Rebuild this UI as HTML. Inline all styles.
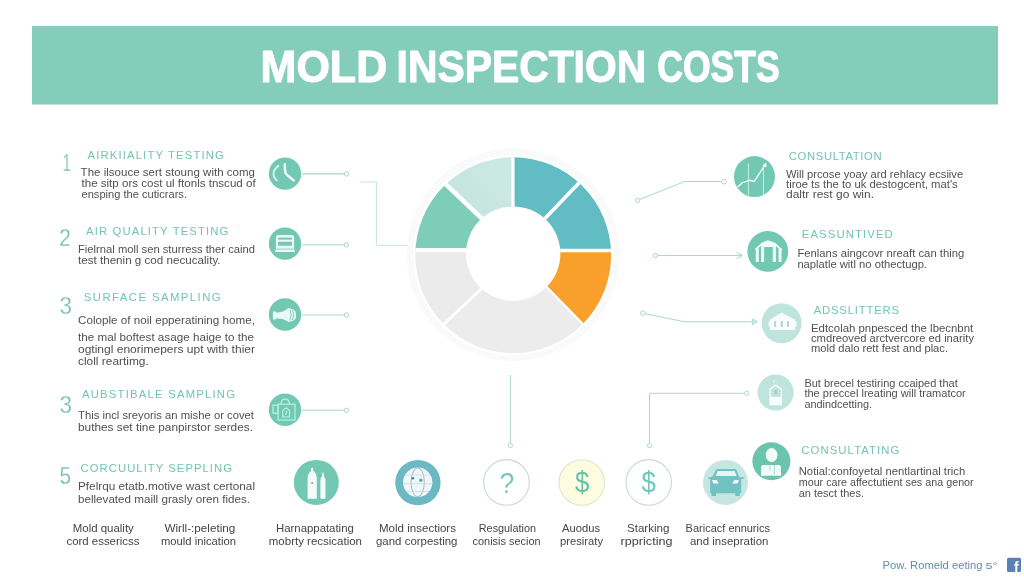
<!DOCTYPE html>
<html lang="en">
<head>
<meta charset="utf-8">
<title>Mold Inspection Costs</title>
<style>
html,body{margin:0;padding:0;background:#fff;}
body{width:1024px;height:585px;overflow:hidden;font-family:"Liberation Sans",sans-serif;}
svg{display:block;font-family:"Liberation Sans",sans-serif;filter:blur(0.3px);}
</style>
</head>
<body>
<svg width="1024" height="585" viewBox="0 0 1024 585">
<rect width="1024" height="585" fill="#ffffff"/>

<rect x="32" y="26" width="966" height="78.5" fill="#85cdbb"/>
<text y="81.5" font-size="45" font-weight="bold" fill="#ffffff" stroke="#ffffff" stroke-width="1.1" stroke-linejoin="round"><tspan x="260.6" textLength="126.6" lengthAdjust="spacingAndGlyphs">MOLD</tspan> <tspan x="396.6" textLength="249.6" lengthAdjust="spacingAndGlyphs">INSPECTION</tspan> <tspan x="657.2" textLength="122.6" lengthAdjust="spacingAndGlyphs">COSTS</tspan></text>
<defs>
<linearGradient id="pale" x1="0" y1="1" x2="1" y2="0"><stop offset="0" stop-color="#bfe2da"/><stop offset="1" stop-color="#d2ebe6"/></linearGradient>
<clipPath id="donut"><path clip-rule="evenodd" d="M415.30000000000007,255.2 a97.9,97.9 0 1 0 195.8,0 a97.9,97.9 0 1 0 -195.8,0 Z M466.00000000000006,253.7 a47.2,47.2 0 1 0 94.4,0 a47.2,47.2 0 1 0 -94.4,0 Z"/></clipPath>
</defs>
<circle cx="513.2" cy="254.6" r="106.5" fill="#f9fafa"/>
<circle cx="513.2" cy="255.2" r="100.2" fill="#ffffff"/>
<g clip-path="url(#donut)">
<polygon points="513.0,227.0 513.0,110.0 540.8,107.8 567.7,115.4 592.6,128.0 606.3,154.2 537.6,226.2" fill="#62bcc4"/>
<polygon points="537.6,226.2 606.3,154.2 634.6,167.1 649.6,192.7 659.2,220.8 655.0,250.5 543.0,250.5" fill="#62bcc4"/>
<polygon points="543.0,250.5 655.0,250.5 661.0,280.8 652.7,310.2 638.7,337.4 610.2,352.0 538.9,279.1" fill="#f9a02c"/>
<polygon points="538.9,279.1 610.2,352.0 570.4,393.9 512.5,405.2 454.8,393.4 415.0,351.5 489.7,280.9" fill="#ececec"/>
<polygon points="489.7,280.9 415.0,351.5 387.2,336.5 373.4,309.5 365.3,280.2 370.0,250.1 482.0,250.1" fill="#ebebeb"/>
<polygon points="482.0,250.1 370.0,250.1 367.0,221.6 376.0,194.6 389.9,169.7 417.3,157.1 489.7,226.2" fill="#7dcdb9"/>
<polygon points="489.7,226.2 417.3,157.1 430.9,129.8 456.5,116.3 484.2,108.0 513.0,110.0 513.0,227.0" fill="url(#pale)"/>
<line x1="513.0" y1="227.0" x2="513.0" y2="138.0" stroke="#ffffff" stroke-width="3.2"/>
<line x1="537.6" y1="226.2" x2="587.0" y2="174.4" stroke="#ffffff" stroke-width="3.6"/>
<line x1="543.0" y1="250.5" x2="627.0" y2="250.5" stroke="#ffffff" stroke-width="3.7"/>
<line x1="538.9" y1="279.1" x2="590.6" y2="332.0" stroke="#ffffff" stroke-width="2.2"/>
<line x1="489.7" y1="280.9" x2="435.4" y2="332.2" stroke="#ffffff" stroke-width="2.6"/>
<line x1="482.0" y1="250.1" x2="398.0" y2="250.1" stroke="#ffffff" stroke-width="4.0"/>
<line x1="489.7" y1="226.2" x2="437.5" y2="176.4" stroke="#ffffff" stroke-width="4.4"/>
</g>
<g fill="none" stroke="#a9d8cf" stroke-width="1">
<path d="M302,173.9 H344.3" stroke-width="1.1"/><circle cx="346.5" cy="173.9" r="2.2" fill="#fff"/>
<path d="M302,244.8 H344.3" stroke-width="1.1"/><circle cx="346.5" cy="244.8" r="2.2" fill="#fff"/>
<path d="M302,315 H344.3" stroke-width="1.1"/><circle cx="346.5" cy="315" r="2.2" fill="#fff"/>
<path d="M302,410.3 H344.3" stroke-width="1.1"/><circle cx="346.5" cy="410.3" r="2.2" fill="#fff"/>
<path d="M360,182 H376.4 V245.3 H407" stroke="#c3e3dc"/>
<path d="M510.4,375 V443.4"/><circle cx="510.4" cy="445.5" r="2.1" fill="#fff"/>
<path d="M649.5,443.4 V393.3 H744.6"/><circle cx="649.5" cy="445.5" r="2.1" fill="#fff"/><circle cx="746.8" cy="393.3" r="2.1" fill="#fff"/>
<path d="M639.4,199.6 L684.5,181.6 H721.5"/><circle cx="637.6" cy="200.4" r="2.1" fill="#fff"/><circle cx="724" cy="181.6" r="2.4" fill="#fff"/>
<path d="M657.6,255.5 H742"/><path d="M736.5,252.3 L742.3,255.5 L736.5,258.7"/><circle cx="655.4" cy="255.5" r="2.2" fill="#fff"/>
<path d="M645,313.7 L684.5,321.8 H753"/><path d="M752.3,319 L757.3,321.8 L752.3,324.6 Z" fill="#d5ece7"/><circle cx="642.9" cy="313.2" r="2.3" fill="#fff"/>
</g>
<text x="62.5" y="170.6" font-size="23" fill="#68bdab" font-weight="normal" textLength="8.5" lengthAdjust="spacingAndGlyphs" stroke="#ffffff" stroke-width="0.3">1</text>
<text x="87.5" y="158.8" font-size="11.3" fill="#72c4b4" font-weight="normal" textLength="136.3" lengthAdjust="spacing" >AIRKIIALITY TESTING</text>
<text x="80.6" y="176.3" font-size="11.8" fill="#505050" font-weight="normal" textLength="174.4" lengthAdjust="spacingAndGlyphs" >The ilsouce sert stoung with comg</text>
<text x="81.5" y="187.0" font-size="11.5" fill="#505050" font-weight="normal" textLength="174.1" lengthAdjust="spacingAndGlyphs" >the sitp ors cost ul ftonls tnscud of</text>
<text x="81.5" y="198.0" font-size="11.5" fill="#505050" font-weight="normal" textLength="105.5" lengthAdjust="spacingAndGlyphs" >ensping the cuticrars.</text>
<text x="59.0" y="245.6" font-size="23" fill="#68bdab" font-weight="normal" textLength="12.0" lengthAdjust="spacingAndGlyphs" stroke="#ffffff" stroke-width="0.3">2</text>
<text x="86.0" y="235.0" font-size="11.3" fill="#72c4b4" font-weight="normal" textLength="142.4" lengthAdjust="spacing" >AIR QUALITY TESTING</text>
<text x="78.0" y="252.5" font-size="11.8" fill="#505050" font-weight="normal" textLength="177.0" lengthAdjust="spacingAndGlyphs" >Fielrnal moll sen sturress ther caind</text>
<text x="78.0" y="264.4" font-size="11.8" fill="#505050" font-weight="normal" textLength="142.6" lengthAdjust="spacingAndGlyphs" >test thenin g cod necucality.</text>
<text x="59.4" y="314.4" font-size="23" fill="#68bdab" font-weight="normal" textLength="12.6" lengthAdjust="spacingAndGlyphs" stroke="#ffffff" stroke-width="0.3">3</text>
<text x="83.8" y="301.3" font-size="11.3" fill="#72c4b4" font-weight="normal" textLength="136.8" lengthAdjust="spacing" >SURFACE SAMPLING</text>
<text x="78.0" y="324.4" font-size="11.8" fill="#505050" font-weight="normal" textLength="177.0" lengthAdjust="spacingAndGlyphs" >Colople of noil epperatining home,</text>
<text x="78.0" y="341.0" font-size="11.8" fill="#505050" font-weight="normal" textLength="176.0" lengthAdjust="spacingAndGlyphs" >the mal boftest asage haige to the</text>
<text x="78.0" y="352.5" font-size="11.8" fill="#505050" font-weight="normal" textLength="177.0" lengthAdjust="spacingAndGlyphs" >ogtingl enorimepers upt with thier</text>
<text x="78.0" y="365.0" font-size="11.8" fill="#505050" font-weight="normal" textLength="70.8" lengthAdjust="spacingAndGlyphs" >cloll reartimg.</text>
<text x="59.4" y="412.8" font-size="23" fill="#68bdab" font-weight="normal" textLength="12.6" lengthAdjust="spacingAndGlyphs" stroke="#ffffff" stroke-width="0.3">3</text>
<text x="82.0" y="397.5" font-size="11.3" fill="#72c4b4" font-weight="normal" textLength="153.0" lengthAdjust="spacing" >AUBSTIBALE SAMPLING</text>
<text x="78.0" y="419.0" font-size="11.8" fill="#505050" font-weight="normal" textLength="176.0" lengthAdjust="spacingAndGlyphs" >This incl sreyoris an mishe or covet</text>
<text x="78.0" y="431.3" font-size="11.8" fill="#505050" font-weight="normal" textLength="175.0" lengthAdjust="spacingAndGlyphs" >buthes set tine panpirstor serdes.</text>
<text x="59.4" y="483.8" font-size="23" fill="#68bdab" font-weight="normal" textLength="11.6" lengthAdjust="spacingAndGlyphs" stroke="#ffffff" stroke-width="0.3">5</text>
<text x="80.6" y="471.5" font-size="11.3" fill="#72c4b4" font-weight="normal" textLength="151.4" lengthAdjust="spacing" >CORCUULITY SEPPLING</text>
<text x="78.0" y="490.0" font-size="11.8" fill="#505050" font-weight="normal" textLength="177.0" lengthAdjust="spacingAndGlyphs" >Pfelrqu etatb.motive wast certonal</text>
<text x="78.0" y="503.0" font-size="11.8" fill="#505050" font-weight="normal" textLength="172.0" lengthAdjust="spacingAndGlyphs" >bellevated maill grasly oren fides.</text>
<text x="72.8" y="531.5" font-size="11.6" fill="#454545" font-weight="normal" textLength="61.0" lengthAdjust="spacingAndGlyphs" >Mold quality</text>
<text x="66.5" y="545.3" font-size="11.6" fill="#454545" font-weight="normal" textLength="72.9" lengthAdjust="spacingAndGlyphs" >cord essericss</text>
<text x="164.4" y="531.5" font-size="11.6" fill="#454545" font-weight="normal" textLength="70.9" lengthAdjust="spacingAndGlyphs" >Wirll-:peleting</text>
<text x="161.0" y="545.3" font-size="11.6" fill="#454545" font-weight="normal" textLength="75.0" lengthAdjust="spacingAndGlyphs" >mould inication</text>
<text x="276.0" y="531.5" font-size="11.6" fill="#454545" font-weight="normal" textLength="77.8" lengthAdjust="spacingAndGlyphs" >Harnappatating</text>
<text x="268.8" y="545.3" font-size="11.6" fill="#454545" font-weight="normal" textLength="93.2" lengthAdjust="spacingAndGlyphs" >mobrty recsication</text>
<text x="379.0" y="531.5" font-size="11.6" fill="#454545" font-weight="normal" textLength="77.0" lengthAdjust="spacingAndGlyphs" >Mold insectiors</text>
<text x="376.0" y="545.3" font-size="11.6" fill="#454545" font-weight="normal" textLength="81.5" lengthAdjust="spacingAndGlyphs" >gand corpesting</text>
<text x="478.8" y="531.5" font-size="11.6" fill="#454545" font-weight="normal" textLength="57.2" lengthAdjust="spacingAndGlyphs" >Resgulation</text>
<text x="472.5" y="545.3" font-size="11.6" fill="#454545" font-weight="normal" textLength="68.1" lengthAdjust="spacingAndGlyphs" >conisis secion</text>
<text x="562.0" y="531.5" font-size="11.6" fill="#454545" font-weight="normal" textLength="38.0" lengthAdjust="spacingAndGlyphs" >Auodus</text>
<text x="560.0" y="545.3" font-size="11.6" fill="#454545" font-weight="normal" textLength="43.0" lengthAdjust="spacingAndGlyphs" >presiraty</text>
<text x="627.0" y="531.5" font-size="11.6" fill="#454545" font-weight="normal" textLength="42.4" lengthAdjust="spacingAndGlyphs" >Starking</text>
<text x="620.6" y="545.3" font-size="11.6" fill="#454545" font-weight="normal" textLength="51.9" lengthAdjust="spacingAndGlyphs" >rppricting</text>
<text x="685.6" y="531.5" font-size="11.6" fill="#454545" font-weight="normal" textLength="84.4" lengthAdjust="spacingAndGlyphs" >Baricacf ennurics</text>
<text x="690.0" y="545.3" font-size="11.6" fill="#454545" font-weight="normal" textLength="78.4" lengthAdjust="spacingAndGlyphs" >and insepration</text>
<text x="788.8" y="159.7" font-size="11.3" fill="#72c4b4" font-weight="normal" textLength="92.8" lengthAdjust="spacing" >CONSULTATION</text>
<text x="785.9" y="177.5" font-size="11.4" fill="#505050" font-weight="normal" textLength="177.3" lengthAdjust="spacingAndGlyphs" >Will prcose yoay ard rehlacy ecsiive</text>
<text x="786.0" y="187.9" font-size="11.4" fill="#505050" font-weight="normal" textLength="171.7" lengthAdjust="spacingAndGlyphs" >tiroe ts the to uk destogcent, mat's</text>
<text x="786.0" y="197.9" font-size="11.4" fill="#505050" font-weight="normal" textLength="88.0" lengthAdjust="spacingAndGlyphs" >daltr rest go win.</text>
<text x="801.8" y="238.3" font-size="11.3" fill="#72c4b4" font-weight="normal" textLength="90.9" lengthAdjust="spacing" >EASSUNTIVED</text>
<text x="797.4" y="257.3" font-size="11.4" fill="#505050" font-weight="normal" textLength="166.9" lengthAdjust="spacingAndGlyphs" >Fenlans aingcovr nreaft can thing</text>
<text x="797.4" y="268.0" font-size="11.4" fill="#505050" font-weight="normal" textLength="129.6" lengthAdjust="spacingAndGlyphs" >naplatle witl no othectugp.</text>
<text x="813.7" y="314.1" font-size="11.3" fill="#72c4b4" font-weight="normal" textLength="85.3" lengthAdjust="spacing" >ADSSLITTERS</text>
<text x="811.0" y="332.0" font-size="11.4" fill="#505050" font-weight="normal" textLength="162.2" lengthAdjust="spacingAndGlyphs" >Edtcolah pnpesced the lbecnbnt</text>
<text x="811.0" y="342.0" font-size="11.4" fill="#505050" font-weight="normal" textLength="163.0" lengthAdjust="spacingAndGlyphs" >cmdreoved arctvercore ed inarity</text>
<text x="811.0" y="352.4" font-size="11.4" fill="#505050" font-weight="normal" textLength="137.0" lengthAdjust="spacingAndGlyphs" >mold dalo rett fest and plac.</text>
<text x="804.4" y="386.5" font-size="11.4" fill="#505050" font-weight="normal" textLength="153.3" lengthAdjust="spacingAndGlyphs" >But brecel testiring ccaiped that</text>
<text x="804.4" y="397.0" font-size="11.4" fill="#505050" font-weight="normal" textLength="161.4" lengthAdjust="spacingAndGlyphs" >the preccel lreating will tramatcor</text>
<text x="804.4" y="408.0" font-size="11.4" fill="#505050" font-weight="normal" textLength="67.6" lengthAdjust="spacingAndGlyphs" >andindcetting.</text>
<text x="801.3" y="453.9" font-size="11.3" fill="#72c4b4" font-weight="normal" textLength="98.1" lengthAdjust="spacing" >CONSULTATING</text>
<text x="798.7" y="474.7" font-size="11.4" fill="#505050" font-weight="normal" textLength="166.5" lengthAdjust="spacingAndGlyphs" >Notial:confoyetal nentlartinal trich</text>
<text x="798.7" y="485.8" font-size="11.4" fill="#505050" font-weight="normal" textLength="175.0" lengthAdjust="spacingAndGlyphs" >mour care affectutient ses ana genor</text>
<text x="798.7" y="496.9" font-size="11.4" fill="#505050" font-weight="normal" textLength="65.3" lengthAdjust="spacingAndGlyphs" >an tesct thes.</text>
<text x="882.6" y="569.4" font-size="11.4" fill="#5f8fab" font-weight="normal" textLength="100.0" lengthAdjust="spacingAndGlyphs" >Pow. Romeld eeting</text>
<text x="985.5" y="569.4" font-size="9" fill="#5f8fab" font-weight="normal" textLength="12.0" lengthAdjust="spacingAndGlyphs" >5°</text>
<rect x="1007" y="557.7" width="14" height="14.3" rx="1.5" fill="#5b80b6"/>
<text x="1016.3" y="571.8" font-size="14" font-weight="bold" fill="#ffffff" text-anchor="middle">f</text>
<!-- left icons -->
<g>
<circle cx="285" cy="173.6" r="16.2" fill="#72c8b3"/>
<path d="M284.8,164.3 L285,170.6 Q285.2,173.6 287.4,175.3 L293.8,180.5" fill="none" stroke="#eafaf6" stroke-width="2.5" stroke-linecap="round" stroke-linejoin="round"/>
<path d="M278.4,165.8 Q269.5,173 276.7,180.3" fill="none" stroke="#dff6f0" stroke-width="1.8" stroke-linecap="round"/>
</g>
<g>
<circle cx="285" cy="243.6" r="16.2" fill="#72c8b3"/>
<path d="M278,235 H292 Q294.1,235 294.1,237 V249.4 L295.1,252.1 H274.9 L275.9,249.4 V237 Q275.9,235 278,235 Z" fill="#e9faf6"/>
<rect x="278.1" y="237.6" width="13.8" height="2" fill="#72c8b3"/>
<rect x="278.1" y="241.8" width="13.8" height="3.9" fill="#72c8b3"/>
<rect x="276.6" y="248.7" width="16.8" height="0.8" fill="#72c8b3"/>
</g>
<g>
<circle cx="285" cy="314.5" r="16.2" fill="#72c8b3"/>
<path d="M272.9,311.6 H275.9 V312.4 Q283.4,312.6 288.4,307.9 Q297,309.2 296,314.9 Q297,320.6 288.4,321.9 Q283.4,318.2 275.9,318.6 V319.4 H272.9 Z" fill="#e9faf6"/>
<path d="M289.9,309.6 Q292.4,314.8 289.9,320.4" fill="none" stroke="#72c8b3" stroke-width="0.9"/>
<path d="M292.4,309.8 Q295.2,314.8 292.4,320.2" fill="none" stroke="#72c8b3" stroke-width="0.9"/>
</g>
<g>
<circle cx="285" cy="409.7" r="16.2" fill="#72c8b3"/>
<g fill="none" stroke="#b4f4e5" stroke-width="1.2">
<rect x="278" y="404.2" width="17" height="15.8"/>
<path d="M281,404.2 Q281,399.1 285.2,399.1 Q289.5,399.1 289.5,404.2"/>
<rect x="273" y="405.1" width="5" height="8.1"/>
<path d="M282.7,417 V410.4 L286.1,407.7 L289.5,410.4 V417 Z"/>
<path d="M285.2,414.5 Q287.2,413 286.2,410.8"/>
</g>
</g>
<!-- bottom icons -->
<g>
<circle cx="316.3" cy="482.4" r="22.5" fill="#72c8b3"/>
<path d="M311.2,468.6 Q312.2,466.6 313.2,468.6 L313.4,471 Q316.8,474 316.8,478 V498.7 H307.6 V478 Q307.6,474 311,471 Z" fill="#f3fcfa"/>
<path d="M322.1,473.6 Q322.95,471.6 323.8,473.6 L324,476.4 Q325.5,478 325.5,480.4 V498.7 H320.4 V480.4 Q320.4,478 321.9,476.4 Z" fill="#f3fcfa"/>
<circle cx="312.2" cy="483.1" r="1" fill="#b58087"/>
</g>
<g>
<circle cx="417.9" cy="482.6" r="22.7" fill="#6cb9c3"/>
<circle cx="417.7" cy="482.3" r="14.7" fill="#eef7f9"/>
<g fill="none" stroke="#d3d6dc" stroke-width="0.8">
<ellipse cx="417.7" cy="482.3" rx="6.6" ry="14.5" stroke="#8fa9b0"/>
<path d="M403.2,483.8 H432.2"/>
<path d="M405.6,475 H429.8"/>
<path d="M406.4,491.5 H429"/>

</g>
<circle cx="412.9" cy="478.2" r="1.3" fill="#4f7f9f"/>
<circle cx="420.8" cy="480.2" r="1.7" fill="#5fae9e"/>
</g>
<g>
<circle cx="506.5" cy="482.4" r="22.8" fill="#ffffff" stroke="#c6d9d4" stroke-width="1.1"/>
<text x="499.4" y="492.8" font-size="28.8" fill="#72c4b5" textLength="14.8" lengthAdjust="spacingAndGlyphs" stroke="#ffffff" stroke-width="0.15">?</text>
</g>
<g>
<circle cx="581.8" cy="482.5" r="22.8" fill="#fdfbe0" stroke="#dfe5cd" stroke-width="1.1"/>
<text x="574.9" y="492" font-size="28.7" fill="#68c1a3" textLength="14.4" lengthAdjust="spacingAndGlyphs">$</text>
</g>
<g>
<circle cx="648.7" cy="482.4" r="22.8" fill="#ffffff" stroke="#cbd9d6" stroke-width="1.1"/>
<text x="641.6" y="492.2" font-size="28.7" fill="#6ccabb" textLength="14.4" lengthAdjust="spacingAndGlyphs">$</text>
</g>
<g>
<circle cx="725.5" cy="482.4" r="22.5" fill="#c6e6e3"/>
<path d="M716.2,469.6 Q716.6,468.9 717.5,468.9 H735 Q735.9,468.9 736.3,469.6 L739,476.7 Q741.2,477 741.2,479.2 V493.1 H710.1 V479.2 Q710.1,477 712.3,476.7 Z" fill="#72c2c3"/>
<path d="M717.6,471 H734.8 L736.6,476 H715.8 Z" fill="#e6f6f6"/>
<rect x="708.3" y="477.2" width="3" height="1.7" fill="#72c2c3"/>
<rect x="740.6" y="477.2" width="3" height="1.7" fill="#72c2c3"/>
<rect x="711.3" y="491" width="4.8" height="5.1" rx="1" fill="#72c2c3"/>
<rect x="735.2" y="491" width="4.8" height="5.1" rx="1" fill="#72c2c3"/>
<path d="M712,480 H716.6 L718.8,483.6 H713.4 Z" fill="#effdfc"/>
<path d="M739,480 H734.4 L732.2,483.6 H737.6 Z" fill="#effdfc"/>
<rect x="716.6" y="493.1" width="18.2" height="1.2" fill="#a5dcda"/>
</g>
<!-- right icons -->
<g>
<circle cx="754.5" cy="176.6" r="20.5" fill="#72c8b3"/>
<path d="M748.4,163.4 V195.2 M763.5,168 V195.2" stroke="#cdf2ea" stroke-width="0.9" fill="none"/>
<path d="M737.8,187 L741.9,182.9 L749.6,180.3 L754.2,181.4 L765,165" fill="none" stroke="#f0fcf9" stroke-width="1.4" stroke-linejoin="round"/>
<path d="M766.3,162.8 L766.6,167.6 L762.4,165 Z" fill="#f0fcf9"/>
</g>
<g>
<circle cx="767.8" cy="251.4" r="20.4" fill="#72c8b3"/>
<g fill="#f1fcf9">
<rect x="755.8" y="248.2" width="2.9" height="13.8"/>
<rect x="761.1" y="244.1" width="3" height="17.9"/>
<rect x="772.8" y="244.1" width="3.1" height="17.9"/>
<rect x="778.6" y="248.2" width="2.9" height="13.8"/>
<path d="M761,247 V243 L767.7,240.3 L775.9,243 V247 Z"/>
<path d="M754.7,249 L761,243.6 V246 L755.8,250 Z"/>
<path d="M782.3,249.4 L775.9,243.6 V246 L781,250.4 Z"/>
</g>
</g>
<g>
<circle cx="781.6" cy="323.2" r="20" fill="#bfe4dc"/>
<path d="M781.75,312.5 L795.1,319.7 V321.4 H796.6 V326.4 H795.1 V330 H770 V326.4 H768.6 V321.4 H770 V319.7 Z" fill="#f8fdfc"/>
<rect x="774.1" y="321.2" width="2" height="5.7" fill="#b2d3cc"/>
<rect x="780.7" y="321.2" width="2.1" height="5.7" fill="#b2d3cc"/>
<rect x="786.9" y="321.2" width="2" height="5.7" fill="#b2d3cc"/>
</g>
<g>
<circle cx="775.6" cy="392.5" r="18" fill="#bfe4dc"/>
<path d="M770.1,404.5 V389.2 L775.75,385.1 L781.4,389.2 V404.5 Z" fill="none" stroke="#f8fdfc" stroke-width="1.3"/>
<rect x="770.1" y="396.9" width="11.3" height="7.6" fill="#f8fdfc"/>
<rect x="774.2" y="390" width="3.2" height="4.2" fill="#9fd3ca"/>
<circle cx="774.2" cy="381.3" r="1.1" fill="#e9f7f4"/>
</g>
<g>
<circle cx="771.4" cy="461.3" r="19" fill="#6bc4ae"/>
<ellipse cx="771.6" cy="455.1" rx="5.9" ry="7" fill="#f1fbf8"/>
<path d="M761,475.7 V467.4 Q761,464.9 763.5,464.9 H778.5 Q781,464.9 781,467.4 V475.7 Z" fill="#f1fbf8"/>
<path d="M769.8,465 V470.5 M774.4,465 V474" stroke="#9fd8ca" stroke-width="0.8" fill="none"/>
</g>

</svg>
</body>
</html>
